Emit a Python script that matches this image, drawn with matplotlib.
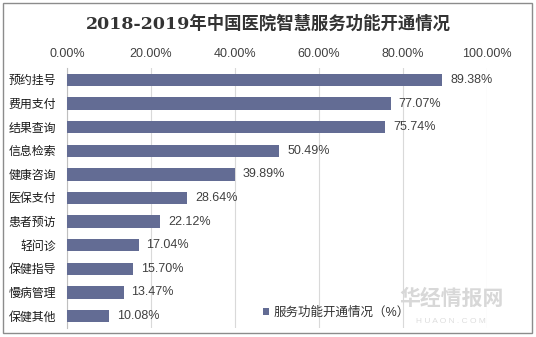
import matplotlib
matplotlib.use("Agg")
import matplotlib.pyplot as plt
from matplotlib.patches import Rectangle
from matplotlib.ticker import FuncFormatter

# data
categories = ["预约挂号", "费用支付", "结果查询", "信息检索", "健康咨询", "医保支付",
              "患者预访", "轻问诊", "保健指导", "慢病管理", "保健其他"]
values = [89.38, 77.07, 75.74, 50.49, 39.89, 28.64, 22.12, 17.04, 15.70, 13.47, 10.08]
x_ticks = [0, 20, 40, 60, 80, 100]
title = "2018-2019年中国医院智慧服务功能开通情况"
legend_label = "服务功能开通情况（%）"

BAR_COLOR = "#636C94"
FONT = ["Liberation Sans", "Noto Sans CJK SC", "DejaVu Sans"]
plt.rcParams["font.family"] = FONT

fig = plt.figure(figsize=(5.36, 3.37), dpi=100)
ax = fig.add_axes([0.125, 0.027, 0.7836, 0.771])

# outer frame around the whole chart
fig.patches.append(Rectangle((0.006, 0.012), 0.987, 0.98, transform=fig.transFigure,
                             fill=False, edgecolor="#8C8C8C", linewidth=1.0))

ypos = list(range(len(categories)))
ax.barh(ypos, values, height=0.52, color=BAR_COLOR, label=legend_label, zorder=3)
ax.set_ylim(len(categories) - 0.5, -0.5)
ax.set_yticks(ypos)
ax.set_yticklabels(categories, fontsize=8.6, color="#1a1a1a")

ax.set_xlim(0, 100)
ax.set_xticks(x_ticks)
ax.xaxis.set_major_formatter(FuncFormatter(lambda v, p: f"{v:.2f}%"))
ax.xaxis.tick_top()
ax.tick_params(axis="x", labelsize=9, colors="#404040", length=0, pad=6)
ax.tick_params(axis="y", length=0, pad=8)
ax.grid(axis="x", color="#D9D9D9", linewidth=0.8, zorder=0)

for s in ["top", "right", "bottom"]:
    ax.spines[s].set_visible(False)
ax.spines["left"].set_color("#BFBFBF")
ax.spines["left"].set_linewidth(0.8)

for y, v in zip(ypos, values):
    ax.text(v + 1.9, y, f"{v:.2f}%", va="center", ha="left", fontsize=9, color="#404040", zorder=4)

fig.text(0.5, 0.93, title, ha="center", va="center", fontsize=12.5, fontweight="bold",
         color="#333333", family=["DejaVu Serif", "Noto Sans CJK SC"])

leg = ax.legend(loc="lower left", bbox_to_anchor=(0.44, -0.01), frameon=False,
                fontsize=9, handlelength=0.5, handleheight=0.5, handletextpad=0.3)
for t in leg.get_texts():
    t.set_color("#333333")

# faint watermark at lower right
fig.text(0.842, 0.115, "华经情报网", ha="center", va="center", fontsize=15,
         color="#D8D8D8", fontweight="bold", zorder=0)
fig.text(0.842, 0.045, "H U A O N . C O M", ha="center", va="center", fontsize=6,
         color="#DDDDDD", zorder=0)

fig.savefig("out.png", dpi=100)
